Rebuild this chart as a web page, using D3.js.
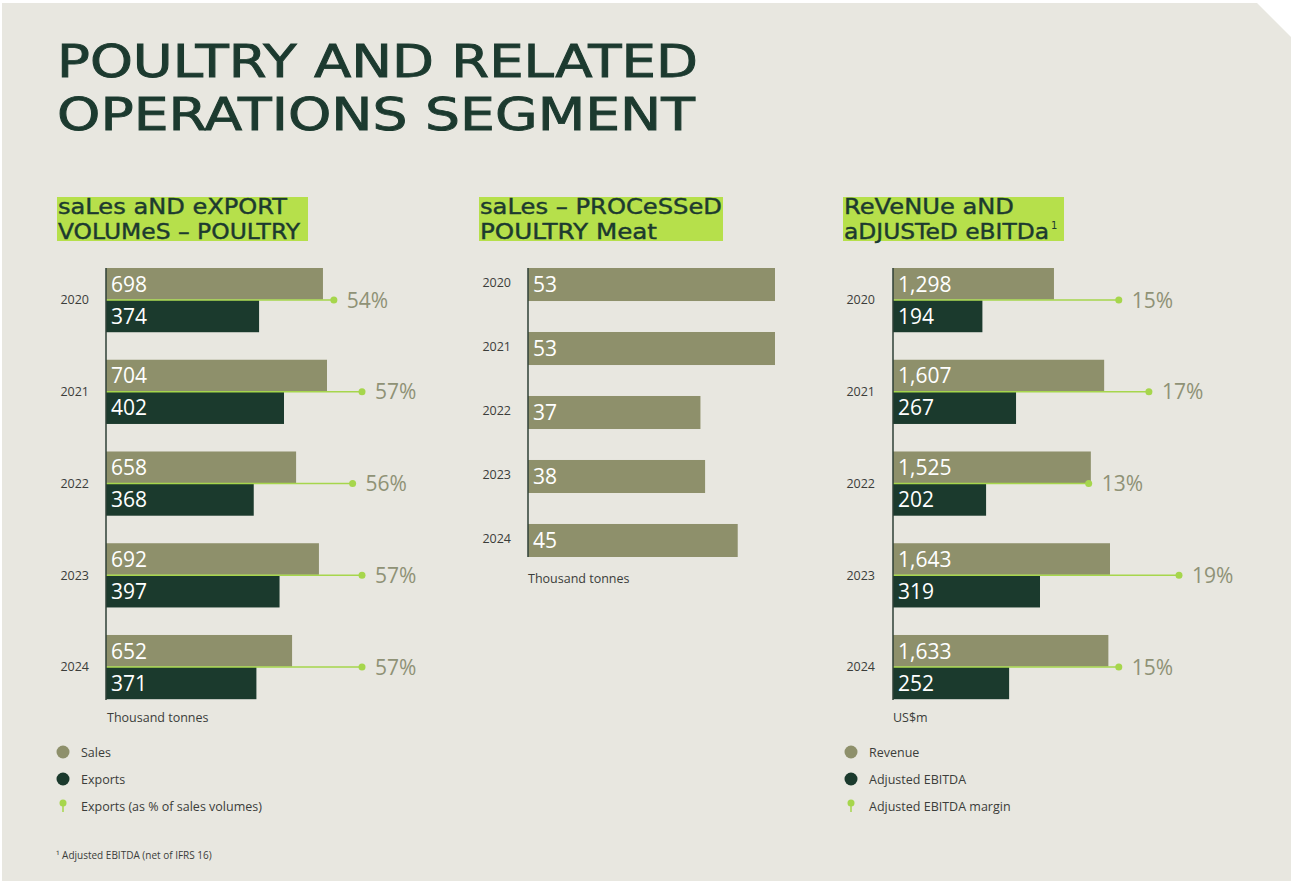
<!DOCTYPE html>
<html>
<head>
<meta charset="utf-8">
<script src="https://cdn.jsdelivr.net/npm/d3@7"></script>
<style>
  html, body { margin: 0; padding: 0; background: #ffffff; }
  svg { display: block; }
</style>
</head>
<body>
<svg id="chart" width="1297" height="883"></svg>
<script>
// ---- data ----
const years = ["2020", "2021", "2022", "2023", "2024"];

// Sales and export volumes – poultry (thousand tonnes)
const salesVolumes = [698, 704, 658, 692, 652];
const exportVolumes = [374, 402, 368, 397, 371];
const exportShare = [54, 57, 56, 57, 57];

// Sales – processed poultry meat (thousand tonnes)
const processedSales = [53, 53, 37, 38, 45];

// Revenue and adjusted EBITDA (US$m)
const revenue = ["1,298", "1,607", "1,525", "1,643", "1,633"].map(s => +s.replace(",", ""));
const adjEbitda = [194, 267, 202, 319, 252];
const ebitdaMargin = [15, 17, 13, 19, 15];

const titleLines = ["POULTRY AND RELATED", "OPERATIONS SEGMENT"];
const legendVolumes = ["Sales", "Exports", "Exports (as % of sales volumes)"];
const legendFinance = ["Revenue", "Adjusted EBITDA", "Adjusted EBITDA margin"];
const footnote = "\u00b9 Adjusted EBITDA (net of IFRS 16)";

// ---- styling ----
const C = {
  page: "#e8e7e0",
  ink: "#1c3a2f",
  light: "#8e906b",
  dark: "#1b3a2d",
  lime: "#b6e04b",
  accent: "#a6d64c",
  pct: "#8f9276",
  text: "#3b3d3a",
  axis: "#2f4037"
};
const bodyFont = "'Open Sans', 'Noto Sans', sans-serif";
const displayFont = "'DejaVu Sans', sans-serif";

const svg = d3.select("#chart");

// page panel with clipped top-right corner
svg.append("path")
  .attr("d", "M2,3 L1257,3 L1291,37 L1291,881 L2,881 Z")
  .attr("fill", C.page);

// ---- title ----
const titleWidths = [641, 638];
svg.append("g").selectAll("text").data(titleLines).join("text")
  .attr("x", 57)
  .attr("y", (d, i) => 77 + i * 53)
  .attr("textLength", (d, i) => titleWidths[i])
  .attr("lengthAdjust", "spacingAndGlyphs")
  .attr("font-family", displayFont)
  .attr("font-size", 44)
  .attr("fill", C.ink)
  .attr("stroke", C.ink)
  .attr("stroke-width", 0.9)
  .text(d => d);

// ---- panel headings on lime highlight ----
function heading(x, w, lines, widths) {
  const g = svg.append("g");
  g.append("rect").attr("x", x).attr("y", 197).attr("width", w).attr("height", 44).attr("fill", C.lime);
  g.selectAll("text").data(lines).join("text")
    .attr("x", x + 1)
    .attr("y", (d, i) => 214 + i * 25)
    .attr("textLength", (d, i) => widths[i])
    .attr("lengthAdjust", "spacingAndGlyphs")
    .attr("font-family", displayFont)
    .attr("font-size", 21)
    .attr("fill", C.ink)
    .attr("stroke", C.ink)
    .attr("stroke-width", 0.4)
    .text(d => d);
  return g;
}
heading(57, 251, ["saLes aND eXPORT", "VOLUMeS \u2013 POULTRY"], [229, 242]);
heading(479, 244, ["saLes \u2013 PROCeSSeD", "POULTRY Meat"], [242, 177]);
const h3 = heading(843, 221, ["ReVeNUe aND", "aDJUSTeD eBITDa"], [170, 205]);
h3.append("text").attr("x", 1051).attr("y", 229).attr("font-family", displayFont)
  .attr("font-size", 10).attr("fill", C.ink).text("1");

// ---- paired bar panel (two series + percentage marker) ----
function pairedPanel(opt) {
  const g = svg.append("g");
  const y = d3.scaleBand().domain(years).range([268, 699.2]).paddingInner(0.3).paddingOuter(0);
  const bw = y.bandwidth();
  const half = bw / 2;
  const rows = years.map((yr, i) => ({ yr, a: opt.a[i], b: opt.b[i], p: opt.p[i], label: opt.aLabel ? opt.aLabel(opt.a[i]) : String(opt.a[i]) }));

  // upper bar
  g.selectAll("rect.a").data(rows).join("rect").attr("class", "a")
    .attr("x", opt.x0).attr("y", d => y(d.yr))
    .attr("width", d => opt.xa(d.a)).attr("height", half - 0.5)
    .attr("fill", C.light);
  // lower bar
  g.selectAll("rect.b").data(rows).join("rect").attr("class", "b")
    .attr("x", opt.x0).attr("y", d => y(d.yr) + half)
    .attr("width", d => opt.xb(d.b)).attr("height", half)
    .attr("fill", C.dark);
  // percentage connector and marker
  g.selectAll("line.p").data(rows).join("line").attr("class", "p")
    .attr("x1", opt.x0).attr("x2", d => opt.x0 + opt.xp(d.p))
    .attr("y1", d => y(d.yr) + half).attr("y2", d => y(d.yr) + half)
    .attr("stroke", C.accent).attr("stroke-width", 1.5);
  g.selectAll("circle.p").data(rows).join("circle").attr("class", "p")
    .attr("cx", d => opt.x0 + opt.xp(d.p)).attr("cy", d => y(d.yr) + half)
    .attr("r", 3.5).attr("fill", C.accent);
  g.selectAll("text.p").data(rows).join("text").attr("class", "p")
    .attr("x", d => opt.x0 + opt.xp(d.p) + 13).attr("y", d => y(d.yr) + half + 7.5)
    .attr("font-family", bodyFont).attr("font-size", 21).attr("fill", C.pct)
    .text(d => d.p + "%");
  // value labels
  g.selectAll("text.a").data(rows).join("text").attr("class", "a")
    .attr("x", opt.x0 + 5).attr("y", d => y(d.yr) + half / 2 + 7.5)
    .attr("font-family", bodyFont).attr("font-size", 21).attr("fill", "#ffffff")
    .text(d => d.label);
  g.selectAll("text.b").data(rows).join("text").attr("class", "b")
    .attr("x", opt.x0 + 5).attr("y", d => y(d.yr) + half * 1.5 + 7.5)
    .attr("font-family", bodyFont).attr("font-size", 21).attr("fill", "#ffffff")
    .text(d => d.b);

  // category axis
  const axis = g.append("g").attr("transform", `translate(${opt.x0},0)`)
    .call(d3.axisLeft(y).tickSize(0).tickPadding(opt.x0 - opt.tickEnd));
  axis.select(".domain").attr("stroke", C.axis).attr("stroke-width", 1.5)
    .attr("d", `M0,268V700`);
  axis.selectAll("text").attr("font-family", bodyFont).attr("font-size", 12.5)
    .attr("fill", C.text).attr("dy", "0.35em");
  return g;
}

// sales/exports panel
pairedPanel({
  x0: 106, tickEnd: 89,
  a: salesVolumes, b: exportVolumes, p: exportShare,
  xa: d3.scaleLinear().domain([375, 704]).range([0, 221]),
  xb: d3.scaleLinear().domain([202, 402]).range([0, 178]),
  xp: d3.scaleLinear().domain([29.7, 57]).range([0, 256])
});

// revenue/EBITDA panel
pairedPanel({
  x0: 893, tickEnd: 875,
  a: revenue, b: adjEbitda, p: ebitdaMargin,
  aLabel: d3.format(","),
  xa: d3.scaleLinear().domain([307, 1643]).range([0, 217]),
  xb: d3.scaleLinear().domain([0, 319]).range([0, 147]),
  xp: d3.scaleLinear().domain([0, 19]).range([0, 286])
});

// ---- processed meat panel ----
(function () {
  const x0 = 528;
  const g = svg.append("g");
  const y = d3.scaleBand().domain(years).range([268, 557]).paddingInner(0.484).paddingOuter(0);
  const x = d3.scaleLinear().domain([0, 53]).range([0, 247]);
  const rows = years.map((yr, i) => ({ yr, v: processedSales[i] }));
  g.selectAll("rect").data(rows).join("rect")
    .attr("x", x0).attr("y", d => y(d.yr))
    .attr("width", d => x(d.v)).attr("height", y.bandwidth())
    .attr("fill", C.light);
  g.selectAll("text.v").data(rows).join("text").attr("class", "v")
    .attr("x", x0 + 5).attr("y", d => y(d.yr) + y.bandwidth() / 2 + 7.5)
    .attr("font-family", bodyFont).attr("font-size", 21).attr("fill", "#ffffff")
    .text(d => d.v);
  const axis = g.append("g").attr("transform", `translate(${x0},0)`)
    .call(d3.axisLeft(y).tickSize(0).tickPadding(17));
  axis.select(".domain").attr("stroke", C.axis).attr("stroke-width", 1.5)
    .attr("d", "M0,268V557");
  axis.selectAll("text").attr("font-family", bodyFont).attr("font-size", 12.5)
    .attr("fill", C.text).attr("dy", "0.2em");
})();

// ---- unit labels ----
[[107, 722, "Thousand tonnes"], [528, 583, "Thousand tonnes"], [893, 722, "US$m"]].forEach(([x, yy, t]) => {
  svg.append("text").attr("x", x).attr("y", yy)
    .attr("font-family", bodyFont).attr("font-size", 12.5).attr("fill", C.text).text(t);
});

// ---- legends ----
function legend(x, labels) {
  const g = svg.append("g");
  const fills = [C.light, C.dark];
  labels.forEach((t, i) => {
    const cy = 752 + i * 27;
    if (i < 2) {
      g.append("circle").attr("cx", x).attr("cy", cy).attr("r", 6.5).attr("fill", fills[i]);
    } else {
      g.append("line").attr("x1", x).attr("x2", x).attr("y1", cy - 3).attr("y2", cy + 6)
        .attr("stroke", C.accent).attr("stroke-width", 1.5);
      g.append("circle").attr("cx", x).attr("cy", cy - 3).attr("r", 3.5).attr("fill", C.accent);
    }
    g.append("text").attr("x", x + 18).attr("y", cy + 4.5)
      .attr("font-family", bodyFont).attr("font-size", 12.5).attr("fill", C.text).text(t);
  });
}
legend(63, legendVolumes);
legend(851, legendFinance);

// ---- footnote ----
svg.append("text").attr("x", 56).attr("y", 859)
  .attr("font-family", bodyFont).attr("font-size", 10).attr("fill", C.text).text(footnote);
</script>
</body>
</html>
